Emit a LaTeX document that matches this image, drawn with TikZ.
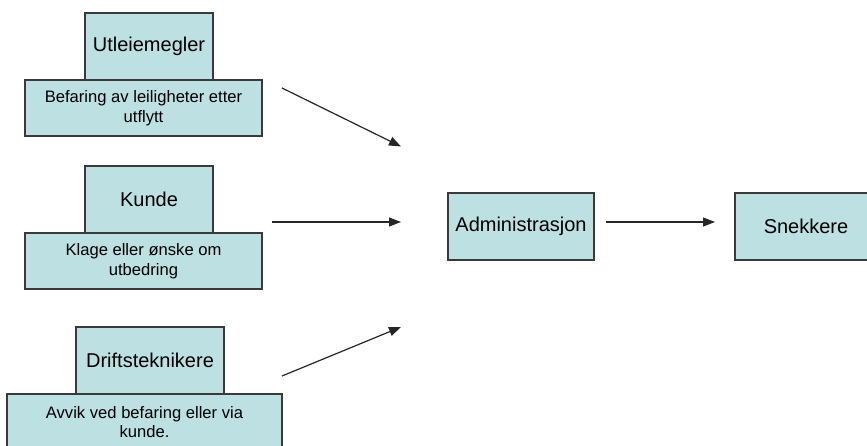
\documentclass[tikz,border=0pt]{standalone}
\usepackage{fontspec}
\setmainfont{Liberation Sans}
\usetikzlibrary{arrows.meta}
\definecolor{boxfill}{HTML}{BDE0E3}
\definecolor{boxline}{HTML}{3A3A3A}
\begin{document}
\begin{tikzpicture}[x=1pt,y=-1pt,
  box/.style={draw=boxline,line width=1.3pt,fill=boxfill,inner sep=0pt,align=center},
  titlebox/.style={box,minimum height=67pt,font=\fontsize{20}{24}\selectfont},
  descbox/.style={box,minimum height=56pt,font=\fontsize{16.6}{19.5}\selectfont},
  arr/.style={draw=black!85,line width=1.2pt,-{Triangle[length=12pt,width=9pt]}}]
\useasboundingbox[clip] (0,0) rectangle (867,446);
% Utleiemegler
\node[titlebox,minimum width=128pt] (u) at (149,46.5) {Utleiemegler};
\node[descbox,minimum width=237pt] (ud) at (143.5,108) {Befaring av leiligheter etter\\utflytt};
% Kunde
\node[titlebox,minimum width=128pt] (k) at (149,199.5) {Kunde};
\node[descbox,minimum width=237pt] (kd) at (143.5,261) {Klage eller ønske om\\utbedring};
% Driftsteknikere
\node[titlebox,minimum width=148pt] (d) at (150,360.5) {Driftsteknikere};
\node[descbox,minimum width=275pt] (dd) at (144.5,422) {Avvik ved befaring eller via\\kunde.};
% Administrasjon, Snekkere
\node[titlebox,minimum width=146pt] (a) at (521,226.5) {Administrasjon};
\node[titlebox,minimum width=142pt] (s) at (806,226.5) {Snekkere};
% arrow ends
\coordinate (u1) at (282,88);
\coordinate (u2) at (401,146.5);
\coordinate (k1) at (272,222);
\coordinate (k2) at (401,222);
\coordinate (d1) at (282,376);
\coordinate (d2) at (401,327);
\coordinate (a1) at (606,222);
\coordinate (a2) at (715,222);
\draw[arr] (u1) -- (u2);
\draw[arr] (k1) -- (k2);
\draw[arr] (d1) -- (d2);
\draw[arr] (a1) -- (a2);
\end{tikzpicture}
\end{document}
